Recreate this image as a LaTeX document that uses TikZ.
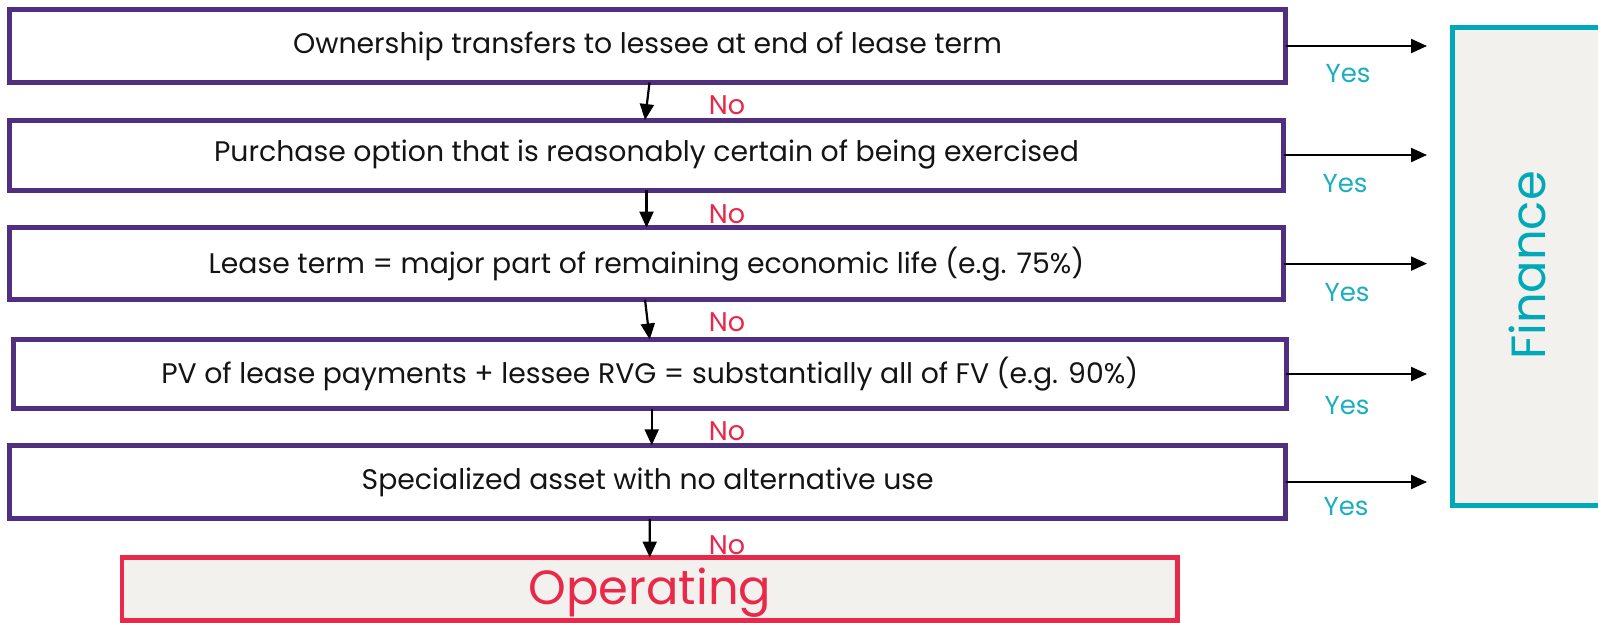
\documentclass[tikz,border=0pt]{standalone}
\usepackage{fontspec}
\setmainfont{Poppins}
\usetikzlibrary{arrows.meta}
\definecolor{purp}{RGB}{80,46,128}
\definecolor{tealc}{RGB}{0,169,183}
\definecolor{tealt}{RGB}{26,175,190}
\definecolor{redc}{RGB}{232,41,74}
\definecolor{fillg}{RGB}{242,241,238}
\definecolor{txt}{RGB}{20,20,20}
\begin{document}
\begin{tikzpicture}[x=1pt,y=-1pt,
  qbox/.style={draw=purp,line width=5pt,rectangle,outer sep=0pt,inner sep=0pt,fill=white,text=txt,font=\fontsize{28.3}{32}\selectfont},
  arr/.style={-{Triangle[length=16pt,width=14pt]},line width=2.2pt,black},
  yeslab/.style={text=tealt,font=\fontsize{26}{29}\selectfont,inner sep=0pt},
  nolab/.style={text=redc,font=\fontsize{27}{30}\selectfont,inner sep=0pt},
  bigtxt/.style={font=\fontsize{48}{52}\selectfont,inner sep=0pt}]
\useasboundingbox (0,0) rectangle (1598,622);
\fill[white] (0,0) rectangle (1598,622);

% question boxes
\node[qbox,minimum width=1276pt,minimum height=73pt] (b1) at (647.5,46) {Ownership transfers to lessee at end of lease term};
\node[qbox,minimum width=1274pt,minimum height=70pt] (b2) at (646.5,155) {Purchase option that is reasonably certain of being exercised};
\node[qbox,minimum width=1274pt,minimum height=72pt] (b3) at (646.5,263.6) {Lease term = major part of remaining economic life (e.g. 75\%)};
\node[qbox,minimum width=1273pt,minimum height=69pt] (b4) at (649.7,374) {PV of lease payments + lessee RVG = substantially all of FV (e.g. 90\%)};
\node[qbox,minimum width=1276.5pt,minimum height=73.5pt] (b5) at (647.7,482) {Specialized asset with no alternative use};

% outcome boxes
\node[draw=redc,fill=fillg,line width=4.5pt,outer sep=0pt,minimum width=1055.5pt,minimum height=63pt] (op) at (649.75,589) {};
\node[bigtxt,text=redc,anchor=base] (opt) at (650,604) {Operating};
\node[draw=tealc,fill=fillg,line width=5pt,outer sep=0pt,minimum width=175pt,minimum height=478pt] (fin) at (1540,266.5) {};
\node[bigtxt,text=tealc,rotate=90] (fint) at (1527.5,265.5) {Finance};

% yes arrows
\foreach \b in {b1,b2,b3,b4,b5}
  \draw[arr,shorten >=25.5pt] (\b.east) -- (\b.east -| fin.west);

\node[yeslab] (y1) at (1348,74) {Yes};
\node[yeslab] (y2) at (1345,184) {Yes};
\node[yeslab] (y3) at (1347,293) {Yes};
\node[yeslab] (y4) at (1347,406) {Yes};
\node[yeslab] (y5) at (1346,507) {Yes};

% no arrows
\draw[arr] ([xshift=2pt]b1.south) -- ([xshift=-1.5pt]b2.north);
\draw[arr] (b2.south) -- (b3.north);
\draw[arr] ([xshift=-1.5pt]b3.south) -- (b4.north);
\draw[arr] ([xshift=2pt]b4.south) -- ([xshift=4pt]b5.north);
\draw[arr] ([xshift=2pt]b5.south) -- ([xshift=0pt]op.north);

\node[nolab] (n1) at (727,105) {No};
\node[nolab] (n2) at (727,214) {No};
\node[nolab] (n3) at (727,322) {No};
\node[nolab] (n4) at (727,431) {No};
\node[nolab] (n5) at (727,545) {No};
\end{tikzpicture}
\end{document}
